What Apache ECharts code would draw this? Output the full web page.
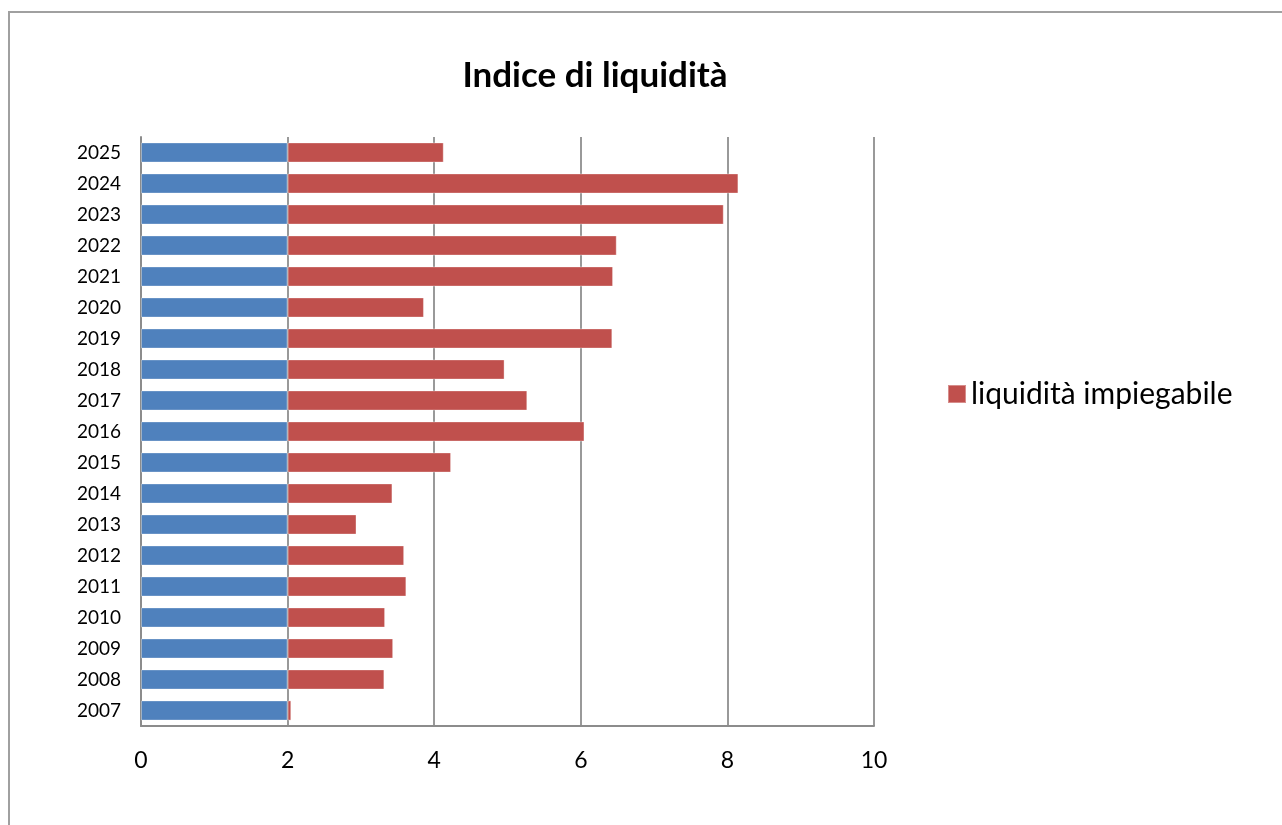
<!DOCTYPE html>
<html>
<head>
<meta charset="utf-8">
<script src="https://cdn.jsdelivr.net/npm/echarts@6/dist/echarts.min.js"></script>
<style>
html,body{margin:0;padding:0;background:#fff;}
#chart{width:1282px;height:825px;}
</style>
</head>
<body>
<div id="chart"></div>
<script>
const years = ['2007','2008','2009','2010','2011','2012','2013','2014','2015','2016','2017','2018','2019','2020','2021','2022','2023','2024','2025'];
const totals = [2.05,3.32,3.44,3.33,3.62,3.59,2.94,3.43,4.23,6.05,5.27,4.96,6.43,3.86,6.44,6.49,7.95,8.15,4.13];
const baseValues = [2,2,2,2,2,2,2,2,2,2,2,2,2,2,2,2,2,2,2];
const xTicks = [0,2,4,6,8,10];
const titleText = 'Indice di liquidità';
const seriesName = 'liquidità impiegabile';

const excess = totals.map((t, i) => +(t - baseValues[i]).toFixed(2));

const chart = echarts.init(document.getElementById('chart'));
const FONT = 'Lato, "Open Sans", sans-serif';
chart.setOption({
  animation: false,
  backgroundColor: '#fff',
  textStyle: { fontFamily: FONT },
  graphic: [{
    type: 'rect',
    shape: { x: 9, y: 12, width: 1300, height: 850 },
    style: { fill: 'none', stroke: '#a0a0a0', lineWidth: 2 },
    silent: true
  }],
  title: {
    text: titleText,
    left: 590,
    textAlign: 'center',
    top: 53,
    textStyle: { fontFamily: FONT, fontWeight: 'bold', fontSize: 35, color: '#000' }
  },
  legend: {
    data: [seriesName],
    left: 947,
    top: 379,
    padding: 0,
    itemWidth: 18,
    itemHeight: 18,
    itemGap: 10,
    icon: 'rect',
    textStyle: { fontFamily: FONT, fontSize: 30, color: '#000' }
  },
  grid: { left: 141, right: 408, top: 137, bottom: 99, containLabel: false },
  xAxis: {
    type: 'value',
    min: 0, max: 10, interval: 2,
    axisLine: { show: true, lineStyle: { color: '#8c8c8c', width: 2 } },
    axisTick: { show: false },
    axisLabel: { fontFamily: FONT, fontSize: 23, color: '#000', margin: 23,
      formatter: v => xTicks.includes(v) ? String(v) : '' },
    splitLine: { show: true, lineStyle: { color: '#999', width: 2 } }
  },
  yAxis: {
    type: 'category',
    data: years,
    axisLine: { show: true, lineStyle: { color: '#8c8c8c', width: 2 } },
    axisTick: { show: false },
    axisLabel: { fontFamily: FONT, fontSize: 19, color: '#000', margin: 20 },
    splitLine: { show: false }
  },
  series: [
    {
      name: 'base',
      type: 'bar',
      stack: 'tot',
      data: baseValues,
      barCategoryGap: '35%',
      itemStyle: { color: '#4F81BD', borderColor: 'rgba(255,255,255,0.35)', borderWidth: 1 }
    },
    {
      name: seriesName,
      type: 'bar',
      stack: 'tot',
      data: excess,
      barCategoryGap: '35%',
      itemStyle: { color: '#C0504D', borderColor: 'rgba(255,255,255,0.35)', borderWidth: 1 }
    }
  ]
});
</script>
</body>
</html>
